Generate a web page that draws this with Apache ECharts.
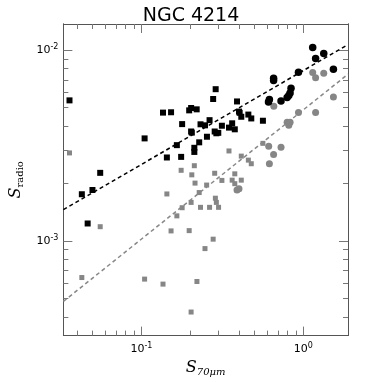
<!DOCTYPE html>
<html>
<head>
    <meta charset="utf-8">
    <title>NGC 4214</title>
    <script src="https://cdn.jsdelivr.net/npm/echarts@6/dist/echarts.min.js"></script>
</head>
<body style="margin:0">
    <div id="main" style="width: 382px;height:382px;"></div>
    <script type="text/javascript">
        // axis ranges and ticks
        var xRange = [0.033, 1.886];
        var yRange = [0.000319, 0.01373];
        var xMajor = [0.1, 1];
        var xMinor = [0.04, 0.05, 0.06, 0.07, 0.08, 0.09, 0.2, 0.3, 0.4, 0.5, 0.6, 0.7, 0.8, 0.9];
        var yMajor = [0.001, 0.01];
        var yMinor = [0.0004, 0.0005, 0.0006, 0.0007, 0.0008, 0.0009,
            0.002, 0.003, 0.004, 0.005, 0.006, 0.007, 0.008, 0.009];

        // black squares
        var blackSqX = [0.0360, 0.0429, 0.0499, 0.0466, 0.0557, 0.1047, 0.136, 0.1525, 0.1437, 0.1656,
            0.176, 0.1785, 0.1973, 0.2028, 0.2195, 0.2028, 0.2048, 0.2123, 0.2123, 0.2275,
            0.2318, 0.247, 0.254, 0.2636, 0.2774, 0.2875, 0.2835, 0.2903, 0.2984, 0.3141,
            0.3474, 0.3635, 0.3773, 0.3895, 0.4004, 0.4043, 0.4138, 0.4575, 0.477, 0.5627];
        var blackSqY = [5.46e-3, 1.758e-3, 1.85e-3, 1.235e-3, 2.276e-3, 3.45e-3, 4.71e-3, 4.73e-3, 2.74e-3, 3.18e-3,
            2.76e-3, 4.10e-3, 4.84e-3, 4.98e-3, 4.90e-3, 3.75e-3, 3.70e-3, 3.08e-3, 2.93e-3, 3.29e-3,
            4.09e-3, 4.04e-3, 3.52e-3, 4.30e-3, 5.55e-3, 6.25e-3, 3.75e-3, 3.67e-3, 3.69e-3, 4.02e-3,
            3.93e-3, 4.14e-3, 3.85e-3, 5.39e-3, 4.77e-3, 4.70e-3, 4.48e-3, 4.60e-3, 4.39e-3, 4.27e-3];

        // black circles
        var blackCiX = [0.617, 0.609, 0.655, 0.655, 0.728, 0.794, 0.813, 0.828, 0.839, 0.933,
            1.142, 1.19, 1.336, 1.533];
        var blackCiY = [5.52e-3, 5.35e-3, 7.14e-3, 6.95e-3, 5.42e-3, 5.65e-3, 5.79e-3, 5.96e-3, 6.32e-3, 7.67e-3,
            1.033e-2, 9.06e-3, 9.62e-3, 7.95e-3];

        // gray squares
        var graySqX = [0.0360, 0.0429, 0.0557, 0.1047, 0.136, 0.1437, 0.1525, 0.1656, 0.176, 0.1785,
            0.1973, 0.2028, 0.2028, 0.2048, 0.2123, 0.2144, 0.2203, 0.2275, 0.2318, 0.247,
            0.2529, 0.2636, 0.2774, 0.2835, 0.2863, 0.2903, 0.2996, 0.3141, 0.3474, 0.3635,
            0.3773, 0.3773, 0.4138, 0.4138, 0.4575, 0.477, 0.5627];
        var graySqY = [2.895e-3, 6.43e-4, 1.188e-3, 6.31e-4, 5.94e-4, 1.764e-3, 1.129e-3, 1.354e-3, 2.347e-3, 1.494e-3,
            1.133e-3, 4.24e-4, 1.593e-3, 2.222e-3, 2.481e-3, 2.011e-3, 6.13e-4, 1.794e-3, 1.501e-3, 9.12e-4,
            1.964e-3, 1.501e-3, 1.022e-3, 2.265e-3, 1.676e-3, 1.593e-3, 1.501e-3, 2.077e-3, 2.965e-3, 2.084e-3,
            2.249e-3, 1.997e-3, 2.786e-3, 2.084e-3, 2.654e-3, 2.541e-3, 3.25e-3];

        // gray circles
        var grayCiX = [0.3895, 0.4004, 0.611, 0.617, 0.655, 0.657, 0.728, 0.794, 0.813, 0.828,
            0.933, 1.142, 1.19, 1.19, 1.336, 1.533];
        var grayCiY = [1.85e-3, 1.881e-3, 3.14e-3, 2.541e-3, 2.838e-3, 5.08e-3, 3.10e-3, 4.19e-3, 4.04e-3, 4.19e-3,
            4.71e-3, 7.64e-3, 7.17e-3, 4.71e-3, 7.58e-3, 5.68e-3];

        // fitted lines (end points)
        var blackFitX = [0.033, 1.886];
        var blackFitY = [1.459e-3, 1.070e-2];
        var grayFitX = [0.033, 1.886];
        var grayFitY = [4.82e-4, 7.49e-3];

        function pairs(xs, ys) {
            return xs.map(function (x, i) { return [x, ys[i]]; });
        }

        function powLabel(v) {
            var e = Math.round(Math.log(v) / Math.LN10);
            return '{b|10}{e|' + e + '}';
        }

        var labelRich = {
            b: { fontSize: 11, fontFamily: 'DejaVu Sans', color: '#000' },
            e: { fontSize: 8, fontFamily: 'DejaVu Sans', color: '#000', padding: [0, 0, 7, 0] }
        };

        var frameColor = '#555';
        var tickColor = '#777';

        function makeAxis(dim, pos, range, ticks, len, withLabel) {
            var ax = {
                type: 'log',
                logBase: 10,
                position: pos,
                min: range[0],
                max: range[1],
                axisLine: { show: true, lineStyle: { color: frameColor, width: 1 } },
                axisTick: {
                    show: true,
                    inside: true,
                    length: len,
                    customValues: ticks,
                    lineStyle: { color: tickColor, width: 1 }
                },
                axisLabel: { show: false },
                splitLine: { show: false },
                minorTick: { show: false }
            };
            if (withLabel) {
                ax.axisLabel = {
                    show: true,
                    customValues: ticks,
                    formatter: powLabel,
                    rich: labelRich,
                    margin: dim === 'x' ? 6 : 5
                };
            }
            return ax;
        }

        var xAxes = [
            makeAxis('x', 'bottom', xRange, xMajor, 9, true),
            makeAxis('x', 'bottom', xRange, xMinor, 5, false),
            makeAxis('x', 'top', xRange, xMajor, 9, false),
            makeAxis('x', 'top', xRange, xMinor, 5, false)
        ];
        xAxes[0].name = '{s|S}{sub|70μm}';
        xAxes[0].nameLocation = 'middle';
        xAxes[0].nameGap = 22;
        xAxes[0].nameTextStyle = {
            rich: {
                s: { fontSize: 16, fontFamily: 'DejaVu Serif', fontStyle: 'italic', color: '#000' },
                sub: { fontSize: 10, fontFamily: 'DejaVu Serif', fontStyle: 'italic', color: '#000', padding: [9, 0, 0, 0] }
            }
        };

        var yAxes = [
            makeAxis('y', 'left', yRange, yMajor, 9, true),
            makeAxis('y', 'left', yRange, yMinor, 5, false),
            makeAxis('y', 'right', yRange, yMajor, 9, false),
            makeAxis('y', 'right', yRange, yMinor, 5, false)
        ];
        yAxes[0].name = '{s|S}{sub|radio}';
        yAxes[0].nameLocation = 'middle';
        yAxes[0].nameRotate = 90;
        yAxes[0].nameGap = 34;
        yAxes[0].nameTextStyle = {
            rich: {
                s: { fontSize: 16, fontFamily: 'DejaVu Serif', fontStyle: 'italic', color: '#000' },
                sub: { fontSize: 10, fontFamily: 'DejaVu Serif', color: '#000', padding: [9, 0, 0, 0] }
            }
        };

        var myChart = echarts.init(document.getElementById('main'));

        var option = {
            backgroundColor: '#fff',
            animation: false,
            title: {
                text: 'NGC 4214',
                left: 'center',
                top: 2,
                textStyle: { fontSize: 19, fontWeight: 'normal', fontFamily: 'DejaVu Sans', color: '#000' }
            },
            grid: { left: 54, right: 34, top: 24, bottom: 41.5 },
            xAxis: xAxes,
            yAxis: yAxes,
            series: [{
                type: 'scatter',
                symbol: 'rect',
                symbolSize: 5,
                itemStyle: { color: '#868686', opacity: 1 },
                data: pairs(graySqX, graySqY)
            }, {
                type: 'scatter',
                symbol: 'circle',
                symbolSize: 7,
                itemStyle: { color: '#868686', opacity: 1 },
                data: pairs(grayCiX, grayCiY)
            }, {
                type: 'scatter',
                symbol: 'rect',
                symbolSize: 6,
                itemStyle: { color: '#000', opacity: 1 },
                data: pairs(blackSqX, blackSqY)
            }, {
                type: 'scatter',
                symbol: 'circle',
                symbolSize: 7.5,
                itemStyle: { color: '#000', opacity: 1 },
                data: pairs(blackCiX, blackCiY)
            }, {
                type: 'line',
                symbol: 'none',
                silent: true,
                lineStyle: { color: '#000', width: 1.5, type: [4, 3] },
                data: pairs(blackFitX, blackFitY)
            }, {
                type: 'line',
                symbol: 'none',
                silent: true,
                lineStyle: { color: '#888', width: 1.5, type: [4, 3] },
                data: pairs(grayFitX, grayFitY)
            }]
        };

        myChart.setOption(option);
    </script>
</body>
</html>
